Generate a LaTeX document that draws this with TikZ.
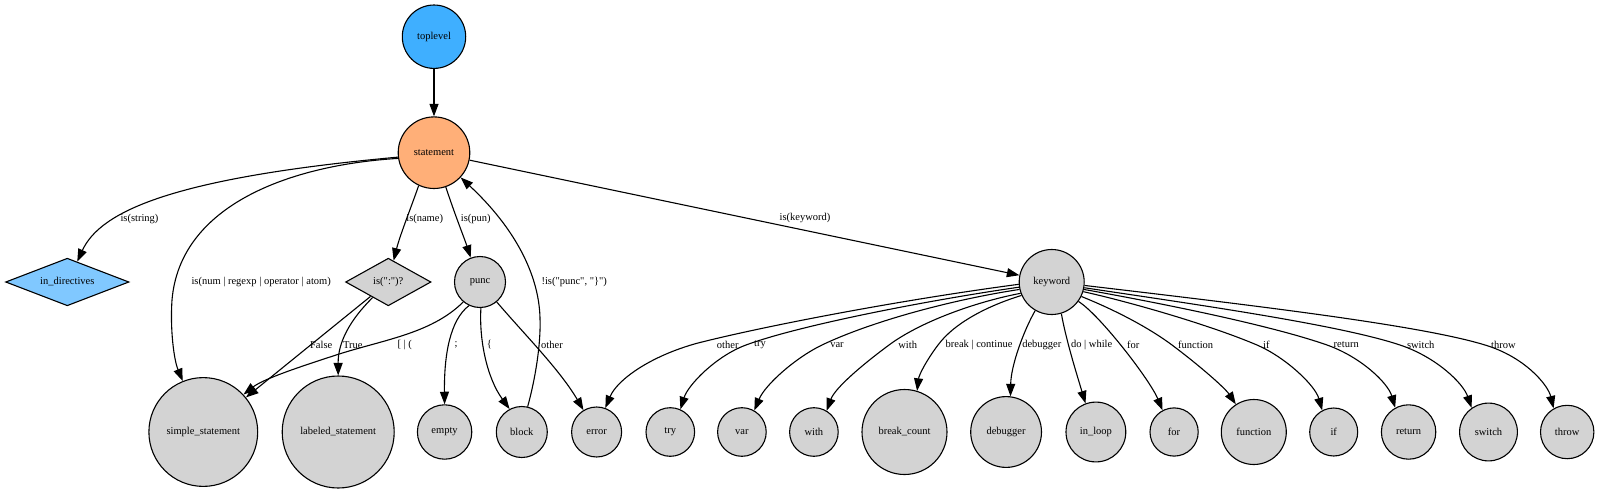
\documentclass[tikz,border=0pt]{standalone}
\usepackage{fontspec}
\setmainfont{Liberation Serif}[Ligatures=TeXOff]
\usetikzlibrary{shapes.geometric,arrows.meta}
\definecolor{cTop}{HTML}{3FAFFF}
\definecolor{cStmt}{HTML}{FFAF78}
\definecolor{cDir}{HTML}{80C8FF}
\definecolor{cGray}{HTML}{D3D3D3}
\begin{document}
\begin{tikzpicture}[x=1pt,y=-1pt,
  txt/.style={font=\fontsize{10.5}{12}\selectfont},
  circ/.style={txt,circle,draw,line width=1.1pt,fill=cGray,inner sep=0pt,minimum size=#1},
  dia/.style={txt,diamond,draw,line width=1.1pt,inner sep=0pt,aspect=2.6},
  lbl/.style={txt,inner sep=0pt},
  conn/.style={draw,line width=1.1pt,-{Triangle[length=12.5pt,width=9pt]}}]
\fill[white] (0,0) rectangle (1599,493);
\useasboundingbox (0,0) rectangle (1599,493);
% nodes
\node[circ=63.4pt,fill=cTop] (toplevel) at (434,36.7) {toplevel};
\node[circ=71.6pt,fill=cStmt] (statement) at (434,152.7) {statement};
\node[dia,fill=cDir,minimum width=123.4pt,minimum height=47.6pt] (indir) at (67.3,282) {in\_directives};
\node[dia,fill=cGray,minimum width=85.4pt,minimum height=47.6pt] (isc) at (388.3,282) {is(":")?};
\node[circ=51pt] (punc) at (480,282) {punc};
\node[circ=65pt] (kw) at (1051.7,282) {keyword};
\node[circ=108.8pt] (simple) at (203.3,432) {simple\_statement};
\node[circ=112pt] (labeled) at (338.2,432) {labeled\_statement};
\node[circ=54.4pt] (empty) at (444.6,432) {empty};
\node[circ=51pt] (block) at (521.8,432) {block};
\node[circ=50pt] (error) at (596.6,432) {error};
\node[circ=48.6pt] (try) at (670.3,432) {try};
\node[circ=48.6pt] (var) at (741.9,432) {var};
\node[circ=48.6pt] (with) at (813.9,432) {with};
\node[circ=85pt] (brk) at (904.5,432) {break\_count};
\node[circ=70.8pt] (dbg) at (1006.1,432) {debugger};
\node[circ=59.8pt] (inloop) at (1095.9,432) {in\_loop};
\node[circ=48.2pt] (for) at (1174.1,432) {for};
\node[circ=65pt] (func) at (1253.8,432) {function};
\node[circ=48pt] (if) at (1333.7,432) {if};
\node[circ=54.4pt] (ret) at (1408.6,432) {return};
\node[circ=57.8pt] (switch) at (1488.5,432) {switch};
\node[circ=53.4pt] (throw) at (1567.2,432) {throw};
% edges
\draw[conn] (toplevel) -- (statement);
\draw[conn] (statement.187) .. controls (170,178) and (100,212) .. (indir.64);
\draw[conn] (statement.189) .. controls (290,165) and (180,205) .. (172,300) .. controls (170,330) and (174,360) .. (simple.112);
\draw[conn] (statement.245) .. controls (412,205) and (400,235) .. (isc);
\draw[conn] (statement.-71) .. controls (455,215) and (465,240) .. (punc.111);
\draw[conn] (statement) -- (kw);
\draw[conn] (block.77) .. controls (535,380) and (541,345) .. (540,318) .. controls (539,275) and (515,228) .. (statement);
\draw[conn] (isc) -- (simple);
\draw[conn] (isc) .. controls (350,320) and (338,342) .. (labeled.north);
\draw[conn] (punc.-130) .. controls (430,335) and (380,340) .. (330,357) .. controls (290,370) and (262,380) .. (simple.43);
\draw[conn] (punc.-115) .. controls (450,320) and (444,355) .. (empty.north);
\draw[conn] (punc.-88) .. controls (479,340) and (487,378) .. (block.118);
\draw[conn] (punc.-50) .. controls (525,335) and (560,370) .. (error.121);
\draw[conn] (kw.184) .. controls (900,300) and (765,326) .. (698,343) .. controls (650,356) and (617,380) .. (error.70);
\draw[conn] (kw.189) .. controls (930,300) and (800,325) .. (746,345) .. controls (716,356) and (688,385) .. (try.66);
\draw[conn] (kw.193) .. controls (950,300) and (870,322) .. (822,345) .. controls (795,358) and (765,385) .. (var.60);
\draw[conn] (kw.200) .. controls (975,302) and (920,322) .. (889,345) .. controls (862,365) and (835,388) .. (with.59);
\draw[conn] (kw.204) .. controls (990,305) and (955,322) .. (938,345) .. controls (926,361) and (919,375) .. (brk.73);
\draw[conn] (kw.240) .. controls (1024,330) and (1011,365) .. (dbg.83);
\draw[conn] (kw.-73) .. controls (1066,340) and (1077,375) .. (inloop.110);
\draw[conn] (kw.-36) .. controls (1100,315) and (1150,380) .. (for.118);
\draw[conn] (kw.-26) .. controls (1110,308) and (1145,325) .. (1172,345) .. controls (1200,366) and (1225,388) .. (func.123);
\draw[conn] (kw.-17) .. controls (1130,302) and (1210,325) .. (1257,345) .. controls (1285,357) and (1315,385) .. (if.118);
\draw[conn] (kw.-13) .. controls (1160,303) and (1270,325) .. (1327,345) .. controls (1361,357) and (1388,383) .. (ret.119);
\draw[conn] (kw.-10) .. controls (1200,305) and (1340,325) .. (1400,345) .. controls (1436,357) and (1463,383) .. (switch.125);
\draw[conn] (kw.-6) .. controls (1250,305) and (1420,325) .. (1485,345) .. controls (1525,357) and (1548,385) .. (throw.120);
% labels
\node[lbl] (l1) at (139.5,219) {is(string)};
\node[lbl] (l2) at (261.2,282) {is(num | regexp | operator | atom)};
\node[lbl] (l3) at (424.7,219) {is(name)};
\node[lbl] (l4) at (475.8,219) {is(pun)};
\node[lbl] (l5) at (805,218.3) {is(keyword)};
\node[lbl] (l6) at (574.2,282) {!is("punc", "\}")};
\node[lbl] (l7) at (321.2,345) {False};
\node[lbl] (l8) at (352.8,345) {True};
\node[lbl] (l9) at (404.7,345) {[ | (};
\node[lbl] (l10) at (456,345) {;};
\node[lbl] (l11) at (489.3,345) {\{};
\node[lbl] (l12) at (552,345) {other};
\node[lbl] (l13) at (727.7,345) {other};
\node[lbl] (l14) at (760,345) {try};
\node[lbl] (l15) at (837,345) {var};
\node[lbl] (l16) at (907.7,345) {with};
\node[lbl] (l17) at (979,345) {break | continue};
\node[lbl] (l18) at (1041.8,345) {debugger};
\node[lbl] (l19) at (1091.7,345) {do | while};
\node[lbl] (l20) at (1133.3,345) {for};
\node[lbl] (l21) at (1195.7,345) {function};
\node[lbl] (l22) at (1266.4,345) {if};
\node[lbl] (l23) at (1346.2,345) {return};
\node[lbl] (l24) at (1420.7,345) {switch};
\node[lbl] (l25) at (1503.4,345) {throw};
\end{tikzpicture}
\end{document}
